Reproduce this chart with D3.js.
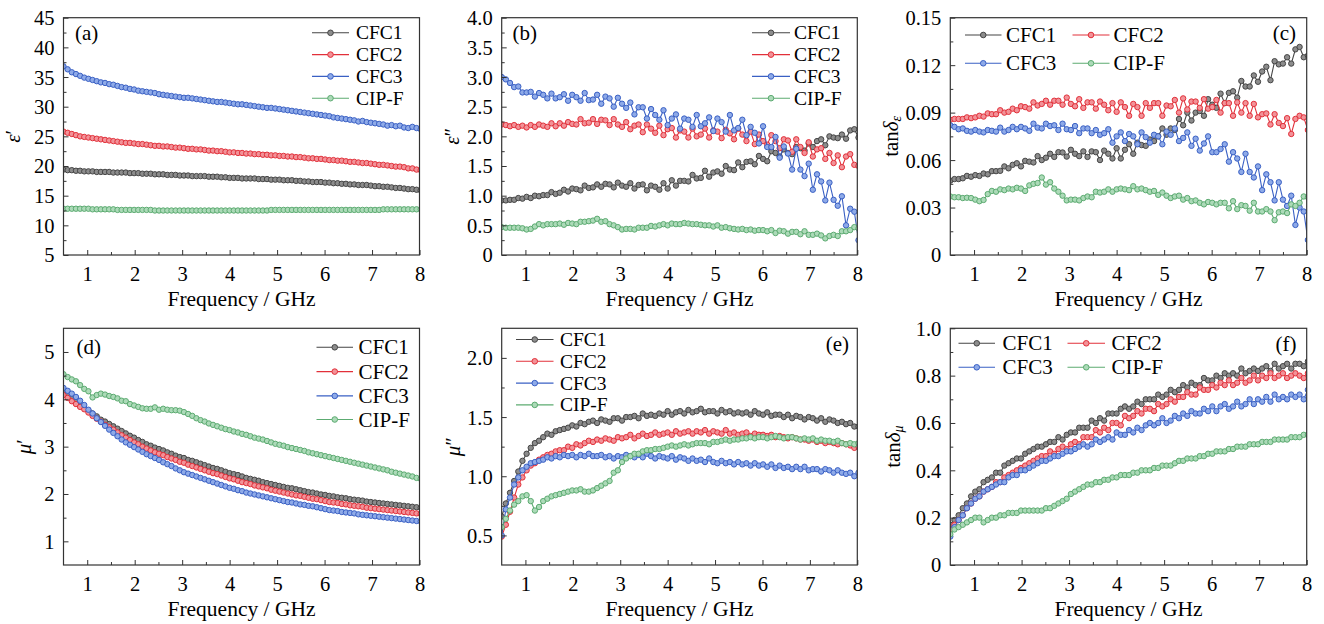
<!DOCTYPE html>
<html>
<head>
<meta charset="utf-8">
<script src="https://cdn.jsdelivr.net/npm/d3@7"></script>
<style>
  html, body { margin: 0; padding: 0; background: #fff; }
  svg { display: block; }
</style>
</head>
<body>
<svg id="fig" width="1324" height="624"></svg>
<script>
// Frequency sweep (GHz)
const freq = [0.5,0.5875,0.675,0.7625,0.85,0.9375,1.025,1.1125,1.2,1.2875,1.375,1.4625,1.55,1.6375,1.725,1.8125,1.9,1.9875,2.075,2.1625,2.25,2.3375,2.425,2.5125,2.6,2.6875,2.775,2.8625,2.95,3.0375,3.125,3.2125,3.3,3.3875,3.475,3.5625,3.65,3.7375,3.825,3.9125,4.0,4.0875,4.175,4.2625,4.35,4.4375,4.525,4.6125,4.7,4.7875,4.875,4.9625,5.05,5.1375,5.225,5.3125,5.4,5.4875,5.575,5.6625,5.75,5.8375,5.925,6.0125,6.1,6.1875,6.275,6.3625,6.45,6.5375,6.625,6.7125,6.8,6.8875,6.975,7.0625,7.15,7.2375,7.325,7.4125,7.5,7.5875,7.675,7.7625,7.85,7.9375,8.025];

const seriesNames = ["CFC1", "CFC2", "CFC3", "CIP-F"];

// (a) real permittivity
const epsRe_CFC1 = [19.4,19.3,19.3,19.2,19.2,19.1,19.1,19.1, 19.0,19.0,19.0,19.0,18.9,18.9,18.9,18.9, 18.8,18.8,18.8,18.7,18.7,18.7,18.6,18.6, 18.6,18.5,18.5,18.5,18.4,18.4,18.4,18.3, 18.3,18.3,18.3,18.2,18.2,18.2,18.1,18.1, 18.0,18.0,18.0,17.9,17.9,17.9,17.9,17.8, 17.8,17.8,17.7,17.7,17.7,17.6,17.6,17.6, 17.5,17.5,17.4,17.4,17.3,17.3,17.3,17.2, 17.2,17.1,17.1,17.0,17.0,16.9,16.9,16.8, 16.8,16.8,16.7,16.6,16.6,16.5,16.5,16.4, 16.3,16.3,16.2,16.1,16.1,16.0,15.9];
const epsRe_CFC2 = [25.8,25.6,25.4,25.2,25.0,24.9,24.8,24.7, 24.6,24.5,24.4,24.3,24.2,24.1,24.0,23.9, 23.9,23.8,23.7,23.7,23.6,23.5,23.4,23.4, 23.3,23.3,23.2,23.1,23.1,23.0,22.9,22.9, 22.8,22.8,22.7,22.6,22.6,22.5,22.5,22.4, 22.3,22.3,22.2,22.2,22.1,22.1,22.0,22.0, 21.9,21.9,21.8,21.8,21.7,21.7,21.6,21.6, 21.5,21.5,21.4,21.3,21.3,21.2,21.2,21.1, 21.0,21.0,20.9,20.9,20.8,20.7,20.7,20.6, 20.5,20.5,20.4,20.3,20.2,20.2,20.1,20.0, 19.9,19.9,19.8,19.6,19.6,19.4,19.3];
const epsRe_CFC3 = [36.8,36.3,35.8,35.5,35.2,34.9,34.7,34.5, 34.3,34.1,34.0,33.8,33.7,33.5,33.3,33.2, 33.0,32.9,32.7,32.6,32.5,32.4,32.3,32.1, 32.0,31.9,31.8,31.7,31.6,31.5,31.5,31.4, 31.3,31.2,31.1,31.0,30.9,30.8,30.8,30.7, 30.6,30.5,30.4,30.4,30.3,30.2,30.1,30.0, 29.9,29.8,29.8,29.7,29.6,29.5,29.4,29.3, 29.2,29.1,29.0,28.9,28.8,28.7,28.6,28.5, 28.4,28.2,28.1,28.0,27.9,27.8,27.7,27.5, 27.6,27.4,27.3,27.2,27.1,27.0,26.8,26.9, 26.7,26.8,26.5,26.4,26.6,26.4,26.2];
const epsRe_CIPF = [12.8,12.8,12.8,12.8,12.8,12.8,12.8,12.7, 12.7,12.7,12.7,12.7,12.7,12.6,12.6,12.6, 12.6,12.6,12.6,12.6,12.6,12.6,12.5,12.5, 12.5,12.5,12.5,12.5,12.5,12.5,12.5,12.5, 12.5,12.5,12.5,12.5,12.5,12.5,12.5,12.5, 12.5,12.5,12.5,12.5,12.5,12.5,12.5,12.5, 12.5,12.5,12.6,12.6,12.6,12.6,12.6,12.6, 12.6,12.6,12.6,12.6,12.6,12.6,12.6,12.6, 12.6,12.6,12.6,12.6,12.6,12.6,12.6,12.6, 12.6,12.6,12.6,12.6,12.6,12.7,12.7,12.7, 12.7,12.7,12.7,12.7,12.7,12.7,12.7];

// (b) imaginary permittivity
const epsIm_CFC1 = [0.92,0.92,0.93,0.93,0.96,0.95,0.98,0.96, 1.00,0.99,1.01,1.01,1.06,1.03,1.05,1.10, 1.07,1.12,1.11,1.09,1.17,1.13,1.14,1.19, 1.15,1.20,1.19,1.14,1.22,1.17,1.15,1.21, 1.12,1.18,1.19,1.09,1.17,1.15,1.10,1.21, 1.12,1.26,1.17,1.25,1.25,1.24,1.35,1.29, 1.30,1.42,1.32,1.39,1.41,1.37,1.50,1.44, 1.43,1.56,1.48,1.57,1.58,1.53,1.67,1.62, 1.58,1.75,1.72,1.66,1.78,1.72,1.70,1.82, 1.80,1.76,1.88,1.82,1.92,1.95,1.85,2.00, 1.98,1.97,2.03,1.96,2.10,2.12,1.98];
const epsIm_CFC2 = [2.20,2.19,2.17,2.19,2.16,2.18,2.15,2.19, 2.16,2.20,2.18,2.16,2.22,2.17,2.22,2.18, 2.24,2.21,2.20,2.29,2.22,2.23,2.29,2.21, 2.28,2.27,2.19,2.29,2.20,2.16,2.24,2.12, 2.18,2.20,2.07,2.20,2.13,2.06,2.18,2.02, 2.12,2.14,1.98,2.10,2.08,1.98,2.13,2.00, 2.03,2.13,1.98,2.10,2.08,1.97,2.11,2.05, 1.95,2.13,2.03,1.92,2.08,1.87,2.03,1.92, 1.86,2.02,1.92,1.80,1.95,1.93,1.74,1.95, 1.82,1.72,1.90,1.66,1.78,1.80,1.62,1.72, 1.55,1.68,1.48,1.66,1.70,1.52,1.50];
const epsIm_CFC3 = [3.00,2.96,2.90,2.83,2.84,2.74,2.74,2.75, 2.67,2.73,2.70,2.64,2.72,2.64,2.66,2.71, 2.60,2.70,2.66,2.60,2.73,2.61,2.62,2.70, 2.55,2.67,2.64,2.50,2.65,2.55,2.48,2.57, 2.37,2.49,2.49,2.30,2.46,2.36,2.28,2.44, 2.19,2.30,2.37,2.13,2.30,2.28,2.16,2.36, 2.17,2.22,2.32,2.09,2.30,2.24,2.08,2.36, 2.10,2.14,2.28,2.02,2.16,2.06,1.88,2.17, 1.82,1.82,1.99,1.64,1.83,1.71,1.44,1.79, 1.44,1.33,1.54,1.10,1.36,1.24,0.92,1.22, 0.93,0.83,0.99,0.50,0.78,0.73,0.25];
const epsIm_CIPF = [0.47,0.46,0.46,0.46,0.46,0.45,0.43,0.44, 0.48,0.52,0.50,0.52,0.52,0.52,0.53,0.51, 0.54,0.53,0.52,0.56,0.56,0.57,0.58,0.61, 0.56,0.57,0.52,0.50,0.47,0.43,0.44,0.44, 0.43,0.46,0.46,0.46,0.49,0.48,0.50,0.52, 0.50,0.53,0.52,0.52,0.54,0.53,0.52,0.52, 0.51,0.50,0.50,0.48,0.50,0.46,0.47,0.45, 0.44,0.43,0.44,0.42,0.43,0.41,0.42,0.42, 0.40,0.42,0.37,0.41,0.40,0.36,0.39,0.39, 0.35,0.40,0.34,0.34,0.36,0.33,0.28,0.32, 0.34,0.32,0.40,0.40,0.42,0.47,0.45];

// (c) dielectric loss tangent
const tanDE_CFC1 = [0.0470,0.0480,0.0480,0.0485,0.0500,0.0495,0.0505,0.0500, 0.0515,0.0510,0.0530,0.0530,0.0532,0.0560,0.0548,0.0570, 0.0580,0.0560,0.0595,0.0590,0.0585,0.0625,0.0600,0.0615, 0.0640,0.0620,0.0650,0.0648,0.0622,0.0665,0.0640,0.0625, 0.0655,0.0620,0.0655,0.0650,0.0600,0.0660,0.0640,0.0610, 0.0675,0.0610,0.0665,0.0700,0.0640,0.0710,0.0695,0.0690, 0.0730,0.0720,0.0750,0.0800,0.0760,0.0800,0.0790,0.0860, 0.0820,0.0900,0.0850,0.0900,0.0910,0.0880,0.0985,0.0950, 0.0930,0.1020,0.0960,0.1025,0.1035,0.0995,0.1100,0.1065, 0.1065,0.1135,0.1095,0.1160,0.1190,0.1105,0.1225,0.1205, 0.1210,0.1250,0.1210,0.1300,0.1315,0.1250,0.1260];
const tanDE_CFC2 = [0.0855,0.0860,0.0860,0.0860,0.0870,0.0865,0.0870,0.0880, 0.0875,0.0895,0.0890,0.0890,0.0915,0.0900,0.0905,0.0925, 0.0915,0.0940,0.0935,0.0925,0.0965,0.0945,0.0955,0.0975, 0.0950,0.0975,0.0975,0.0950,0.0995,0.0955,0.0940,0.0985, 0.0930,0.0965,0.0965,0.0925,0.0970,0.0950,0.0915,0.0960, 0.0905,0.0965,0.0935,0.0880,0.0955,0.0935,0.0880,0.0960, 0.0930,0.0960,0.0960,0.0880,0.0945,0.0940,0.0980,0.0900, 0.0990,0.0920,0.0970,0.0970,0.0930,0.0985,0.0925,0.0935, 0.0980,0.0900,0.0960,0.0960,0.0880,0.0965,0.0900,0.0960, 0.0880,0.0955,0.0870,0.0890,0.0895,0.0825,0.0890,0.0835, 0.0815,0.0865,0.0765,0.0860,0.0880,0.0870,0.0790];
const tanDE_CFC3 = [0.0820,0.0810,0.0795,0.0800,0.0785,0.0780,0.0790,0.0780, 0.0775,0.0790,0.0785,0.0780,0.0805,0.0780,0.0790,0.0810, 0.0795,0.0810,0.0800,0.0785,0.0830,0.0805,0.0800,0.0830, 0.0815,0.0820,0.0790,0.0830,0.0795,0.0790,0.0815,0.0770, 0.0800,0.0800,0.0770,0.0790,0.0760,0.0770,0.0795,0.0710, 0.0750,0.0775,0.0720,0.0765,0.0750,0.0700,0.0775,0.0745, 0.0710,0.0760,0.0750,0.0700,0.0780,0.0760,0.0800,0.0720, 0.0740,0.0775,0.0690,0.0735,0.0660,0.0705,0.0750,0.0650, 0.0650,0.0670,0.0700,0.0590,0.0650,0.0610,0.0525,0.0640, 0.0525,0.0490,0.0560,0.0410,0.0510,0.0460,0.0345,0.0460, 0.0350,0.0310,0.0375,0.0190,0.0300,0.0275,0.0095];
const tanDE_CIPF = [0.0370,0.0365,0.0365,0.0360,0.0362,0.0360,0.0350,0.0340, 0.0348,0.0385,0.0405,0.0400,0.0415,0.0410,0.0420,0.0415, 0.0425,0.0420,0.0405,0.0440,0.0450,0.0455,0.0490,0.0445, 0.0460,0.0420,0.0400,0.0375,0.0345,0.0350,0.0350,0.0345, 0.0360,0.0370,0.0365,0.0400,0.0395,0.0400,0.0415,0.0400, 0.0415,0.0420,0.0415,0.0410,0.0435,0.0415,0.0420,0.0410, 0.0400,0.0405,0.0380,0.0395,0.0375,0.0360,0.0370,0.0375, 0.0350,0.0360,0.0340,0.0345,0.0330,0.0320,0.0335,0.0330, 0.0320,0.0330,0.0330,0.0295,0.0340,0.0290,0.0315,0.0310, 0.0280,0.0330,0.0275,0.0275,0.0290,0.0275,0.0220,0.0270, 0.0275,0.0265,0.0320,0.0310,0.0330,0.0370,0.0365];

// (d) real permeability
const muRe_CFC1 = [4.16,4.10,4.02,3.95,3.88,3.82,3.76,3.70, 3.64,3.57,3.53,3.48,3.43,3.38,3.33,3.28, 3.23,3.19,3.14,3.10,3.05,3.02,2.98,2.95, 2.92,2.88,2.85,2.81,2.78,2.76,2.72,2.70, 2.67,2.64,2.61,2.58,2.55,2.53,2.50,2.47, 2.44,2.42,2.40,2.37,2.34,2.32,2.30,2.28, 2.25,2.23,2.21,2.19,2.17,2.15,2.13,2.12, 2.10,2.08,2.06,2.04,2.03,2.01,1.99,1.98, 1.96,1.95,1.93,1.92,1.91,1.89,1.88,1.87, 1.86,1.84,1.83,1.82,1.81,1.80,1.79,1.78, 1.77,1.76,1.75,1.74,1.73,1.72,1.71];
const muRe_CFC2 = [4.09,4.03,3.96,3.90,3.84,3.79,3.72,3.65, 3.59,3.53,3.46,3.41,3.36,3.30,3.24,3.19, 3.14,3.09,3.05,3.00,2.96,2.92,2.88,2.85, 2.82,2.78,2.75,2.72,2.68,2.66,2.62,2.59, 2.56,2.53,2.50,2.47,2.44,2.42,2.39,2.36, 2.33,2.31,2.28,2.25,2.23,2.21,2.18,2.16, 2.14,2.12,2.09,2.07,2.05,2.03,2.01,1.99, 1.97,1.96,1.94,1.92,1.90,1.89,1.87,1.85, 1.83,1.82,1.81,1.79,1.78,1.76,1.75,1.74, 1.73,1.71,1.70,1.69,1.68,1.67,1.66,1.65, 1.64,1.63,1.62,1.61,1.60,1.59,1.58];
const muRe_CFC3 = [4.24,4.18,4.12,4.05,3.97,3.88,3.78,3.70, 3.60,3.52,3.44,3.36,3.29,3.22,3.15,3.09, 3.04,2.99,2.94,2.89,2.84,2.80,2.76,2.72, 2.67,2.63,2.59,2.54,2.50,2.46,2.43,2.40, 2.37,2.34,2.31,2.28,2.25,2.22,2.19,2.16, 2.13,2.11,2.08,2.06,2.03,2.01,1.99,1.97, 1.95,1.93,1.91,1.89,1.87,1.85,1.83,1.82, 1.80,1.78,1.77,1.75,1.74,1.72,1.70,1.68, 1.66,1.65,1.64,1.62,1.61,1.60,1.59,1.57, 1.56,1.55,1.54,1.53,1.52,1.51,1.50,1.49, 1.48,1.47,1.46,1.45,1.44,1.43,1.42];
const muRe_CIPF = [4.53,4.47,4.42,4.38,4.30,4.22,4.17,4.04, 4.09,4.12,4.10,4.07,4.05,4.02,3.97,3.96, 3.90,3.87,3.84,3.81,3.80,3.80,3.83,3.78, 3.80,3.78,3.77,3.77,3.76,3.73,3.69,3.65, 3.60,3.56,3.53,3.49,3.46,3.43,3.40,3.37, 3.35,3.32,3.30,3.27,3.25,3.22,3.19,3.17, 3.15,3.12,3.09,3.06,3.04,3.02,2.99,2.97, 2.95,2.93,2.91,2.88,2.86,2.84,2.82,2.80, 2.78,2.76,2.74,2.72,2.70,2.68,2.66,2.64, 2.62,2.60,2.58,2.56,2.54,2.52,2.50,2.47, 2.45,2.43,2.41,2.39,2.37,2.34,2.32];

// (e) imaginary permeability
const muIm_CFC1 = [0.66,0.77,0.86,0.96,1.04,1.13,1.19,1.24, 1.28,1.30,1.33,1.36,1.35,1.38,1.39,1.40, 1.41,1.43,1.42,1.45,1.44,1.46,1.47,1.45, 1.48,1.47,1.46,1.49,1.49,1.47,1.50,1.50, 1.51,1.49,1.53,1.51,1.52,1.51,1.53,1.52, 1.55,1.52,1.54,1.55,1.53,1.56,1.54,1.55, 1.57,1.54,1.55,1.55,1.53,1.56,1.54,1.55, 1.53,1.54,1.53,1.54,1.52,1.55,1.53,1.52, 1.54,1.51,1.52,1.52,1.50,1.52,1.49,1.51, 1.50,1.48,1.50,1.49,1.47,1.49,1.46,1.48, 1.47,1.45,1.46,1.44,1.45,1.42,1.42];
const muIm_CFC2 = [0.49,0.59,0.70,0.82,0.93,0.99,1.05,1.09, 1.11,1.14,1.16,1.18,1.19,1.21,1.22,1.22, 1.25,1.24,1.27,1.26,1.28,1.30,1.29,1.31, 1.30,1.32,1.31,1.30,1.33,1.32,1.33,1.35, 1.32,1.34,1.36,1.34,1.35,1.37,1.35,1.36, 1.37,1.35,1.38,1.36,1.37,1.38,1.36,1.38, 1.37,1.39,1.36,1.38,1.37,1.36,1.39,1.36, 1.37,1.35,1.36,1.37,1.34,1.36,1.35,1.35, 1.34,1.35,1.33,1.34,1.33,1.32,1.33,1.32, 1.31,1.31,1.30,1.31,1.29,1.30,1.28,1.29, 1.28,1.27,1.28,1.27,1.26,1.24,1.25];
const muIm_CFC3 = [0.50,0.72,0.82,0.93,0.99,1.05,1.08,1.11, 1.12,1.13,1.14,1.16,1.15,1.17,1.16,1.18, 1.17,1.18,1.16,1.18,1.17,1.19,1.17,1.17, 1.18,1.16,1.17,1.15,1.17,1.16,1.18,1.17, 1.16,1.18,1.16,1.19,1.17,1.15,1.17,1.16, 1.15,1.17,1.14,1.16,1.15,1.13,1.15,1.13, 1.14,1.12,1.15,1.12,1.11,1.13,1.11,1.12, 1.10,1.12,1.10,1.11,1.09,1.11,1.09,1.10, 1.08,1.10,1.07,1.09,1.07,1.08,1.06,1.08, 1.06,1.08,1.05,1.06,1.06,1.04,1.06,1.05, 1.03,1.05,1.03,1.02,1.03,1.00,1.03];
const muIm_CIPF = [0.57,0.64,0.71,0.76,0.79,0.83,0.84,0.79, 0.71,0.74,0.79,0.81,0.83,0.84,0.85,0.86, 0.87,0.88,0.88,0.89,0.87,0.87,0.88,0.90, 0.92,0.94,0.96,1.03,1.05,1.12,1.15,1.17, 1.19,1.19,1.21,1.22,1.22,1.23,1.23,1.24, 1.25,1.26,1.25,1.26,1.27,1.26,1.27,1.28, 1.28,1.28,1.27,1.29,1.29,1.30,1.31,1.30, 1.31,1.31,1.32,1.32,1.33,1.32,1.33,1.33, 1.32,1.33,1.34,1.33,1.32,1.33,1.33,1.32, 1.31,1.32,1.31,1.32,1.30,1.31,1.30,1.30, 1.29,1.30,1.28,1.27,1.28,1.27,1.28];

// (f) magnetic loss tangent
const tanDM_CFC1 = [0.17,0.19,0.21,0.24,0.26,0.29,0.31,0.32, 0.35,0.36,0.37,0.39,0.39,0.42,0.43,0.44, 0.45,0.45,0.47,0.48,0.49,0.50,0.50,0.51, 0.52,0.52,0.54,0.53,0.55,0.56,0.56,0.58, 0.58,0.58,0.61,0.60,0.62,0.61,0.64,0.64, 0.64,0.66,0.67,0.66,0.67,0.69,0.68,0.70, 0.70,0.70,0.72,0.71,0.72,0.74,0.73,0.74, 0.76,0.75,0.77,0.76,0.76,0.79,0.78,0.78, 0.80,0.79,0.81,0.80,0.81,0.80,0.83,0.81, 0.82,0.83,0.82,0.83,0.84,0.82,0.85,0.83, 0.84,0.85,0.83,0.85,0.85,0.84,0.86];
const tanDM_CFC2 = [0.15,0.17,0.19,0.21,0.24,0.26,0.28,0.29, 0.31,0.32,0.33,0.35,0.35,0.37,0.38,0.39, 0.40,0.41,0.42,0.43,0.44,0.45,0.46,0.46, 0.48,0.47,0.49,0.50,0.49,0.51,0.52,0.51, 0.54,0.54,0.54,0.57,0.56,0.58,0.57,0.60, 0.60,0.59,0.63,0.62,0.63,0.65,0.64,0.66, 0.66,0.65,0.68,0.67,0.68,0.70,0.69,0.71, 0.71,0.73,0.72,0.72,0.75,0.74,0.74,0.76, 0.75,0.77,0.76,0.78,0.76,0.77,0.79,0.77, 0.78,0.80,0.78,0.80,0.79,0.81,0.79,0.80, 0.81,0.79,0.80,0.81,0.80,0.79,0.81];
const tanDM_CFC3 = [0.12,0.16,0.19,0.21,0.24,0.26,0.28,0.29, 0.31,0.32,0.33,0.34,0.35,0.35,0.37,0.38, 0.38,0.40,0.40,0.41,0.42,0.43,0.44,0.44, 0.45,0.46,0.46,0.47,0.48,0.48,0.49,0.50, 0.51,0.50,0.51,0.53,0.52,0.53,0.54,0.53, 0.56,0.55,0.55,0.57,0.56,0.58,0.57,0.59, 0.60,0.59,0.60,0.62,0.60,0.61,0.63,0.62, 0.64,0.63,0.65,0.64,0.64,0.66,0.65,0.67, 0.65,0.67,0.68,0.66,0.67,0.69,0.67,0.68, 0.70,0.68,0.70,0.69,0.71,0.69,0.72,0.70, 0.71,0.70,0.72,0.71,0.72,0.70,0.74];
const tanDM_CIPF = [0.13,0.15,0.16,0.17,0.18,0.19,0.20,0.20, 0.18,0.19,0.20,0.20,0.21,0.21,0.22,0.22, 0.22,0.23,0.23,0.23,0.23,0.23,0.23,0.24, 0.24,0.25,0.26,0.27,0.28,0.30,0.31,0.32, 0.33,0.34,0.34,0.35,0.35,0.36,0.36,0.37, 0.37,0.38,0.38,0.38,0.39,0.39,0.40,0.40, 0.40,0.41,0.41,0.42,0.42,0.42,0.43,0.44, 0.44,0.45,0.45,0.45,0.46,0.46,0.47,0.47, 0.48,0.48,0.48,0.49,0.49,0.50,0.50,0.50, 0.51,0.51,0.51,0.52,0.52,0.52,0.53,0.53, 0.53,0.53,0.54,0.54,0.54,0.55,0.55];

// Axis tick values
const xTicks = [1, 2, 3, 4, 5, 6, 7, 8];
const xMinorTicks = [1.5, 2.5, 3.5, 4.5, 5.5, 6.5, 7.5];
const yTicksA = [5, 10, 15, 20, 25, 30, 35, 40, 45];
const yTicksB = [0, 0.5, 1.0, 1.5, 2.0, 2.5, 3.0, 3.5, 4.0];
const yTicksC = [0, 0.03, 0.06, 0.09, 0.12, 0.15];
const yTicksD = [1, 2, 3, 4, 5];
const yTicksE = [0.5, 1.0, 1.5, 2.0];
const yTicksF = [0, 0.2, 0.4, 0.6, 0.8, 1.0];

// ---------------------------------------------------------------------------
const SERIF = "'Liberation Serif', 'Times New Roman', Tinos, 'DejaVu Serif', serif";
const lineColors = ["#454545", "#e2303a", "#3a60c4", "#5cab71"];
const fillColors = ["#8c8c8c", "#f29298", "#8eaae8", "#acdab8"];

const svg = d3.select("#fig");

function fmtFixed(d) { return d === 0 ? "0" : d.toFixed(1); }

const colL = { x0: 63.5, x1: 419.5 };
const colM = { x0: 501.7, x1: 857.3 };
const colR = { x0: 950.3, x1: 1306.7 };
const rowT = { y0: 17.7, y1: 255 };
const rowB = { y0: 328.3, y1: 565 };

const panels = [
  { tag: "(a)", col: colL, row: rowT, dom: [5, 45], ticks: yTicksA,
    minor: yTicksA.slice(0, -1).map(v => v + 2.5), fmt: d3.format("d"),
    data: [epsRe_CFC1, epsRe_CFC2, epsRe_CFC3, epsRe_CIPF],
    label: { x: 75, y: 33, anchor: "start" },
    legend: { size: 19.5, cols: [[312, 349, 356]], rows: [32.8, 54.6, 76.4, 98.2], grid: [[0,0],[0,1],[0,2],[0,3]] },
    ylab: { x: 13, main: "ε", suffix: "′" } },
  { tag: "(b)", col: colM, row: rowT, dom: [0, 4], ticks: yTicksB,
    minor: yTicksB.slice(0, -1).map(v => v + 0.25), fmt: fmtFixed,
    data: [epsIm_CFC1, epsIm_CFC2, epsIm_CFC3, epsIm_CIPF],
    label: { x: 512.5, y: 33, anchor: "start" },
    legend: { size: 19.5, cols: [[752, 790, 794]], rows: [32.8, 54.6, 76.4, 98.2], grid: [[0,0],[0,1],[0,2],[0,3]] },
    ylab: { x: 452, main: "ε", suffix: "″" } },
  { tag: "(c)", col: colR, row: rowT, dom: [0, 0.15], ticks: yTicksC,
    minor: yTicksC.slice(0, -1).map(v => v + 0.015), fmt: d => d === 0 ? "0" : d.toFixed(2),
    data: [tanDE_CFC1, tanDE_CFC2, tanDE_CFC3, tanDE_CIPF],
    label: { x: 1296, y: 33, anchor: "end" },
    legend: { size: 21, cols: [[965, 1001.5, 1006], [1072.5, 1109.5, 1113.5]], rows: [35, 63.3], grid: [[0,0],[1,0],[0,1],[1,1]] },
    ylab: { x: 891, tan: true, sub: "ε" } },
  { tag: "(d)", col: colL, row: rowB, dom: [0.5, 5.5], ticks: yTicksD,
    minor: [1.5, 2.5, 3.5, 4.5], fmt: d3.format("d"),
    data: [muRe_CFC1, muRe_CFC2, muRe_CFC3, muRe_CIPF],
    label: { x: 76.5, y: 347, anchor: "start" },
    legend: { size: 21, cols: [[316.5, 353, 358.5]], rows: [347.3, 371.6, 395.9, 419.5], grid: [[0,0],[0,1],[0,2],[0,3]] },
    ylab: { x: 24, main: "μ", suffix: "′" } },
  { tag: "(e)", col: colM, row: rowB, dom: [0.25, 2.25], ticks: yTicksE,
    minor: [0.75, 1.25, 1.75], fmt: fmtFixed,
    data: [muIm_CFC1, muIm_CFC2, muIm_CFC3, muIm_CIPF],
    label: { x: 849, y: 343.5, anchor: "end" },
    legend: { size: 19.5, cols: [[516, 553.5, 560]], rows: [339.5, 361.3, 383.1, 404.9], grid: [[0,0],[0,1],[0,2],[0,3]] },
    ylab: { x: 453, main: "μ", suffix: "″" } },
  { tag: "(f)", col: colR, row: rowB, dom: [0, 1], ticks: yTicksF,
    minor: yTicksF.slice(0, -1).map(v => v + 0.1), fmt: fmtFixed,
    data: [tanDM_CFC1, tanDM_CFC2, tanDM_CFC3, tanDM_CIPF],
    label: { x: 1296.5, y: 343.5, anchor: "end" },
    legend: { size: 21, cols: [[958.5, 995, 1002.5], [1067.5, 1105, 1111.5]], rows: [343.3, 367.3], grid: [[0,0],[1,0],[0,1],[1,1]] },
    ylab: { x: 893, tan: true, sub: "μ" } }
];

panels.forEach((p, pi) => {
  const x = d3.scaleLinear().domain([0.5, 8]).range([p.col.x0, p.col.x1]);
  const y = d3.scaleLinear().domain(p.dom).range([p.row.y1, p.row.y0]);
  const g = svg.append("g");

  // clip region for the data
  const clipId = "clip" + pi;
  svg.append("clipPath").attr("id", clipId)
    .append("rect")
    .attr("x", p.col.x0).attr("y", p.row.y0)
    .attr("width", p.col.x1 - p.col.x0).attr("height", p.row.y1 - p.row.y0);

  // data series
  const plot = g.append("g").attr("clip-path", `url(#${clipId})`);
  const line = d3.line().x((d, i) => x(freq[i])).y(d => y(d));
  p.data.forEach((vals, si) => {
    const sg = plot.append("g");
    sg.append("path").datum(vals)
      .attr("d", line)
      .attr("fill", "none")
      .attr("stroke", lineColors[si])
      .attr("stroke-width", 1.1);
    sg.selectAll("circle").data(vals).join("circle")
      .attr("cx", (d, i) => x(freq[i]))
      .attr("cy", d => y(d))
      .attr("r", 2.7)
      .attr("fill", fillColors[si])
      .attr("stroke", lineColors[si])
      .attr("stroke-width", 1);
  });

  // axes (ticks pointing inward)
  const xAxis = g.append("g").attr("transform", `translate(0,${p.row.y1})`)
    .call(d3.axisBottom(x).tickValues(xTicks).tickSize(-5).tickPadding(11).tickFormat(d3.format("d")));
  const xMinor = g.append("g").attr("transform", `translate(0,${p.row.y1})`)
    .call(d3.axisBottom(x).tickValues(xMinorTicks).tickSize(-3).tickFormat(""));
  const yAxis = g.append("g").attr("transform", `translate(${p.col.x0},0)`)
    .call(d3.axisLeft(y).tickValues(p.ticks).tickSize(-5).tickPadding(9).tickFormat(p.fmt));
  const yMinor = g.append("g").attr("transform", `translate(${p.col.x0},0)`)
    .call(d3.axisLeft(y).tickValues(p.minor).tickSize(-3).tickFormat(""));
  [xAxis, xMinor, yAxis, yMinor].forEach(a => {
    a.attr("font-family", null).attr("font-size", null);
    a.select(".domain").remove();
    a.selectAll("line").attr("stroke", "#333").attr("stroke-width", 1);
    a.selectAll("text").style("font-family", SERIF).style("font-size", "20.5px").attr("fill", "#000");
  });
  yAxis.selectAll("text").attr("dy", "0.34em");

  // frame
  g.append("rect")
    .attr("x", p.col.x0).attr("y", p.row.y0)
    .attr("width", p.col.x1 - p.col.x0).attr("height", p.row.y1 - p.row.y0)
    .attr("fill", "none").attr("stroke", "#333").attr("stroke-width", 1.2);

  // x title
  g.append("text")
    .attr("x", (p.col.x0 + p.col.x1) / 2).attr("y", p.row.y1 + 51)
    .attr("text-anchor", "middle")
    .style("font-family", SERIF).style("font-size", "21.5px")
    .text("Frequency / GHz");

  // y title
  const cy = (p.row.y0 + p.row.y1) / 2;
  const yl = g.append("text")
    .attr("transform", `translate(${p.ylab.x},${cy}) rotate(-90)`)
    .attr("text-anchor", "middle").attr("dominant-baseline", "central")
    .style("font-family", SERIF).style("font-size", "21px");
  if (p.ylab.tan) {
    yl.append("tspan").text("tan");
    yl.append("tspan").style("font-style", "italic").text("δ");
    yl.append("tspan").style("font-style", "italic").style("font-size", "14px").attr("dy", 5).text(p.ylab.sub);
  } else {
    yl.append("tspan").style("font-style", "italic").text(p.ylab.main);
    yl.append("tspan").text(p.ylab.suffix);
  }

  // panel tag
  g.append("text")
    .attr("x", p.label.x).attr("y", p.label.y)
    .attr("text-anchor", p.label.anchor).attr("dominant-baseline", "central")
    .style("font-family", SERIF).style("font-size", "21px")
    .text(p.tag);

  // legend
  seriesNames.forEach((name, si) => {
    const [c, r] = p.legend.grid[si];
    const [lx0, lx1, tx] = p.legend.cols[c];
    const ly = p.legend.rows[r];
    g.append("line")
      .attr("x1", lx0).attr("x2", lx1).attr("y1", ly).attr("y2", ly)
      .attr("stroke", lineColors[si]).attr("stroke-width", 1.1);
    g.append("circle")
      .attr("cx", (lx0 + lx1) / 2).attr("cy", ly).attr("r", 2.8)
      .attr("fill", fillColors[si]).attr("stroke", lineColors[si]).attr("stroke-width", 1);
    g.append("text")
      .attr("x", tx).attr("y", ly)
      .attr("dominant-baseline", "central")
      .style("font-family", SERIF).style("font-size", p.legend.size + "px")
      .text(name);
  });
});
</script>
</body>
</html>
